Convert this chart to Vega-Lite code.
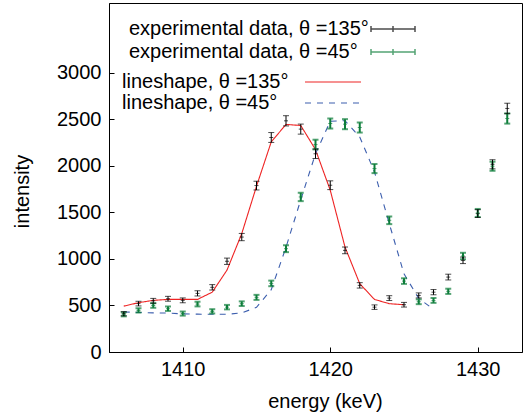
{
  "$schema": "https://vega.github.io/schema/vega-lite/v6.json",
  "width": 413,
  "height": 349,
  "autosize": "none",
  "padding": {"left": 109, "top": 3, "right": 5, "bottom": 65},
  "background": "white",
  "config": {
    "view": {"stroke": "black", "strokeWidth": 1},
    "font": "Liberation Sans",
    "axis": {
      "grid": false, "domainColor": "black", "tickColor": "black",
      "labelColor": "black", "titleColor": "black",
      "labelFontSize": 20, "titleFontSize": 20, "titleFontWeight": "normal",
      "labelFont": "Liberation Sans", "titleFont": "Liberation Sans",
      "tickSize": -5, "format": "d"
    },
    "legend": {
      "labelFontSize": 20, "labelFont": "Liberation Sans", "labelColor": "black",
      "padding": 0, "labelLimit": 400
    }
  },
  "datasets": {
    "pts": [
      {"e": 1406, "v": 411, "err": 22, "series": "experimental data, θ =135°"},
      {"e": 1407, "v": 520, "err": 25, "series": "experimental data, θ =135°"},
      {"e": 1408, "v": 550, "err": 26, "series": "experimental data, θ =135°"},
      {"e": 1409, "v": 572, "err": 26, "series": "experimental data, θ =135°"},
      {"e": 1410, "v": 555, "err": 26, "series": "experimental data, θ =135°"},
      {"e": 1411, "v": 630, "err": 28, "series": "experimental data, θ =135°"},
      {"e": 1412, "v": 695, "err": 29, "series": "experimental data, θ =135°"},
      {"e": 1413, "v": 975, "err": 34, "series": "experimental data, θ =135°"},
      {"e": 1414, "v": 1235, "err": 39, "series": "experimental data, θ =135°"},
      {"e": 1415, "v": 1788, "err": 47, "series": "experimental data, θ =135°"},
      {"e": 1416, "v": 2305, "err": 53, "series": "experimental data, θ =135°"},
      {"e": 1417, "v": 2484, "err": 55, "series": "experimental data, θ =135°"},
      {"e": 1418, "v": 2395, "err": 54, "series": "experimental data, θ =135°"},
      {"e": 1419, "v": 2130, "err": 51, "series": "experimental data, θ =135°"},
      {"e": 1420, "v": 1792, "err": 47, "series": "experimental data, θ =135°"},
      {"e": 1421, "v": 1092, "err": 36, "series": "experimental data, θ =135°"},
      {"e": 1422, "v": 716, "err": 29, "series": "experimental data, θ =135°"},
      {"e": 1423, "v": 482, "err": 24, "series": "experimental data, θ =135°"},
      {"e": 1424, "v": 579, "err": 26, "series": "experimental data, θ =135°"},
      {"e": 1425, "v": 508, "err": 25, "series": "experimental data, θ =135°"},
      {"e": 1426, "v": 608, "err": 27, "series": "experimental data, θ =135°"},
      {"e": 1427, "v": 643, "err": 28, "series": "experimental data, θ =135°"},
      {"e": 1428, "v": 805, "err": 31, "series": "experimental data, θ =135°"},
      {"e": 1429, "v": 985, "err": 35, "series": "experimental data, θ =135°"},
      {"e": 1430, "v": 1487, "err": 42, "series": "experimental data, θ =135°"},
      {"e": 1431, "v": 2017, "err": 49, "series": "experimental data, θ =135°"},
      {"e": 1432, "v": 2617, "err": 56, "series": "experimental data, θ =135°"},
      {"e": 1406, "v": 405, "err": 22, "series": "experimental data, θ =45°"},
      {"e": 1407, "v": 447, "err": 23, "series": "experimental data, θ =45°"},
      {"e": 1408, "v": 500, "err": 25, "series": "experimental data, θ =45°"},
      {"e": 1409, "v": 465, "err": 24, "series": "experimental data, θ =45°"},
      {"e": 1410, "v": 413, "err": 22, "series": "experimental data, θ =45°"},
      {"e": 1411, "v": 515, "err": 25, "series": "experimental data, θ =45°"},
      {"e": 1412, "v": 437, "err": 23, "series": "experimental data, θ =45°"},
      {"e": 1413, "v": 482, "err": 24, "series": "experimental data, θ =45°"},
      {"e": 1414, "v": 519, "err": 25, "series": "experimental data, θ =45°"},
      {"e": 1415, "v": 587, "err": 27, "series": "experimental data, θ =45°"},
      {"e": 1416, "v": 737, "err": 30, "series": "experimental data, θ =45°"},
      {"e": 1417, "v": 1110, "err": 37, "series": "experimental data, θ =45°"},
      {"e": 1418, "v": 1666, "err": 45, "series": "experimental data, θ =45°"},
      {"e": 1419, "v": 2229, "err": 52, "series": "experimental data, θ =45°"},
      {"e": 1420, "v": 2455, "err": 54, "series": "experimental data, θ =45°"},
      {"e": 1421, "v": 2448, "err": 54, "series": "experimental data, θ =45°"},
      {"e": 1422, "v": 2412, "err": 54, "series": "experimental data, θ =45°"},
      {"e": 1423, "v": 1971, "err": 49, "series": "experimental data, θ =45°"},
      {"e": 1424, "v": 1415, "err": 41, "series": "experimental data, θ =45°"},
      {"e": 1425, "v": 762, "err": 30, "series": "experimental data, θ =45°"},
      {"e": 1426, "v": 540, "err": 26, "series": "experimental data, θ =45°"},
      {"e": 1427, "v": 554, "err": 26, "series": "experimental data, θ =45°"},
      {"e": 1428, "v": 652, "err": 28, "series": "experimental data, θ =45°"},
      {"e": 1429, "v": 1031, "err": 35, "series": "experimental data, θ =45°"},
      {"e": 1430, "v": 1494, "err": 43, "series": "experimental data, θ =45°"},
      {"e": 1431, "v": 1996, "err": 49, "series": "experimental data, θ =45°"},
      {"e": 1432, "v": 2509, "err": 55, "series": "experimental data, θ =45°"}
    ],
    "fit": [
      {"e": 1406, "v": 493, "series": "lineshape, θ =135°"},
      {"e": 1407, "v": 530, "series": "lineshape, θ =135°"},
      {"e": 1408, "v": 555, "series": "lineshape, θ =135°"},
      {"e": 1409, "v": 565, "series": "lineshape, θ =135°"},
      {"e": 1410, "v": 565, "series": "lineshape, θ =135°"},
      {"e": 1411, "v": 565, "series": "lineshape, θ =135°"},
      {"e": 1412, "v": 643, "series": "lineshape, θ =135°"},
      {"e": 1413, "v": 880, "series": "lineshape, θ =135°"},
      {"e": 1414, "v": 1272, "series": "lineshape, θ =135°"},
      {"e": 1415, "v": 1781, "series": "lineshape, θ =135°"},
      {"e": 1416, "v": 2258, "series": "lineshape, θ =135°"},
      {"e": 1417, "v": 2445, "series": "lineshape, θ =135°"},
      {"e": 1418, "v": 2434, "series": "lineshape, θ =135°"},
      {"e": 1419, "v": 2175, "series": "lineshape, θ =135°"},
      {"e": 1420, "v": 1738, "series": "lineshape, θ =135°"},
      {"e": 1421, "v": 1128, "series": "lineshape, θ =135°"},
      {"e": 1422, "v": 734, "series": "lineshape, θ =135°"},
      {"e": 1423, "v": 565, "series": "lineshape, θ =135°"},
      {"e": 1424, "v": 519, "series": "lineshape, θ =135°"},
      {"e": 1425, "v": 508, "series": "lineshape, θ =135°"},
      {"e": 1406, "v": 430, "series": "lineshape, θ =45°"},
      {"e": 1407, "v": 425, "series": "lineshape, θ =45°"},
      {"e": 1408, "v": 420, "series": "lineshape, θ =45°"},
      {"e": 1409, "v": 418, "series": "lineshape, θ =45°"},
      {"e": 1410, "v": 410, "series": "lineshape, θ =45°"},
      {"e": 1411, "v": 407, "series": "lineshape, θ =45°"},
      {"e": 1412, "v": 405, "series": "lineshape, θ =45°"},
      {"e": 1413, "v": 405, "series": "lineshape, θ =45°"},
      {"e": 1414, "v": 420, "series": "lineshape, θ =45°"},
      {"e": 1415, "v": 480, "series": "lineshape, θ =45°"},
      {"e": 1416, "v": 670, "series": "lineshape, θ =45°"},
      {"e": 1417, "v": 1125, "series": "lineshape, θ =45°"},
      {"e": 1418, "v": 1635, "series": "lineshape, θ =45°"},
      {"e": 1419, "v": 2130, "series": "lineshape, θ =45°"},
      {"e": 1420, "v": 2480, "series": "lineshape, θ =45°"},
      {"e": 1421, "v": 2485, "series": "lineshape, θ =45°"},
      {"e": 1422, "v": 2310, "series": "lineshape, θ =45°"},
      {"e": 1423, "v": 1935, "series": "lineshape, θ =45°"},
      {"e": 1424, "v": 1380, "series": "lineshape, θ =45°"},
      {"e": 1425, "v": 840, "series": "lineshape, θ =45°"},
      {"e": 1426, "v": 575, "series": "lineshape, θ =45°"},
      {"e": 1427, "v": 460, "series": "lineshape, θ =45°"}
    ]
  },
  "encoding": {
    "x": {
      "field": "e", "type": "quantitative",
      "scale": {"domain": [1405, 1433], "nice": false, "zero": false},
      "axis": {
        "values": [1410, 1420, 1430], "title": "energy (keV)",
        "labelPadding": 12, "titleX": 216, "titleY": 55,
        "titleBaseline": "alphabetic", "titleAlign": "center"
      }
    },
    "y": {
      "field": "v", "type": "quantitative",
      "scale": {"domain": [0, 3750], "nice": false},
      "axis": {
        "values": [0, 500, 1000, 1500, 2000, 2500, 3000], "title": "intensity",
        "labelPadding": 13, "titleX": -81, "titleY": 188, "titleAngle": -90,
        "titleBaseline": "alphabetic", "titleAlign": "center"
      }
    }
  },
  "layer": [
    {
      "data": {"name": "fit"},
      "mark": {"type": "line", "strokeWidth": 1.1},
      "encoding": {
        "color": {
          "field": "series", "type": "nominal",
          "scale": {"domain": ["lineshape, θ =135°", "lineshape, θ =45°"], "range": ["#ee2424", "#3d5fae"]},
          "legend": {"title": null, "orient": "none", "legendX": 214, "legendY": 69,
                     "symbolType": "M-5.6,0H5.6", "symbolSize": 100, "symbolStrokeWidth": 1.2,
                     "labelOffset": -221, "rowPadding": 1,
                     "encode": {"symbols": {"update": {"strokeDash": {"signal": "datum.value === 'lineshape, θ =45°' ? [6, 6] : [1, 0]"}}}}}
        },
        "strokeDash": {
          "field": "series", "type": "nominal",
          "scale": {"domain": ["lineshape, θ =135°", "lineshape, θ =45°"], "range": [[1, 0], [6, 6]]},
          "legend": null
        }
      }
    },
    {
      "data": {"name": "pts"},
      "layer": [
        {
          "transform": [{"filter": {"field": "series", "equal": "experimental data, θ =45°"}}],
          "mark": {"type": "errorbar", "ticks": {"size": 6}, "thickness": 2},
          "encoding": {"yError": {"field": "err"}, "color": {"field": "series", "type": "nominal"}}
        },
        {
          "transform": [{"filter": {"field": "series", "equal": "experimental data, θ =135°"}}],
          "mark": {"type": "errorbar", "ticks": {"size": 6}, "thickness": 1},
          "encoding": {"yError": {"field": "err"}, "color": {"field": "series", "type": "nominal"}}
        },
        {
          "mark": {"type": "tick", "orient": "horizontal", "size": 4, "thickness": 1},
          "encoding": {"color": {"field": "series", "type": "nominal"}}
        }
      ],
      "encoding": {
        "color": {
          "field": "series", "type": "nominal",
          "scale": {"domain": ["experimental data, θ =135°", "experimental data, θ =45°"], "range": ["#000000", "#0d7d3a"]},
          "legend": {"title": null, "orient": "none", "legendX": 274, "legendY": 16,
                     "symbolType": "M-4.4,0H4.4M-4.4,-0.6V0.6M4.4,-0.6V0.6M0,-0.6V0.6",
                     "symbolSize": 100, "symbolStrokeWidth": 1.5,
                     "labelOffset": -274, "rowPadding": 3}
        }
      }
    }
  ],
  "resolve": {"scale": {"color": "independent"}}
}
